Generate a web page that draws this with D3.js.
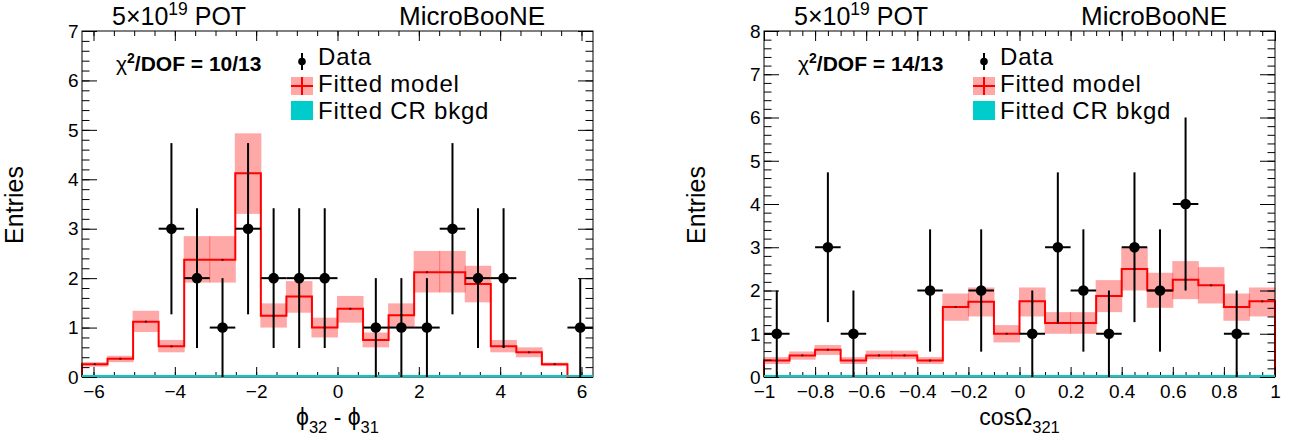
<!DOCTYPE html>
<html><head><meta charset="utf-8">
<script src="https://cdn.jsdelivr.net/npm/d3@7"></script>
<style>
body{margin:0;background:#fff}
svg{display:block}
text{font-family:"Liberation Sans",Arial,Helvetica,sans-serif;fill:#000}
</style>
</head><body>
<svg id="c" width="1292" height="444"></svg>
<script>
// ---------- data ----------
const phiRange = [-2 * Math.PI, 2 * Math.PI];
const phiModel   = [0.26,0.37,1.12,0.62,2.37,2.37,4.12,1.24,1.63,1.00,1.38,0.75,1.25,2.12,2.12,1.88,0.62,0.50,0.26,0];
const phiModelHi = [0.30,0.43,1.34,0.75,2.85,2.85,4.93,1.49,1.94,1.20,1.64,0.90,1.49,2.55,2.55,2.25,0.75,0.60,0.29,0];
const phiModelLo = [0.21,0.30,0.91,0.50,1.91,1.91,3.30,1.00,1.30,0.80,1.10,0.60,1.00,1.71,1.71,1.51,0.50,0.40,0.22,0];
const phiData    = [0,0,0,3,2,1,3,2,2,2,0,1,1,1,3,2,2,0,0,1];
const phiCR      = [0,0,0,0,0,0,0,0,0,0,0,0,0,0,0,0,0,0,0,0];
const phiXTicks  = [-6,-4,-2,0,2,4,6];
const phiXLabels = ["\u22126","\u22124","\u22122","0","2","4","6"];
const phiYTicks  = [0,1,2,3,4,5,6,7];

const cosRange = [-1, 1];
const cosModel   = [0.38,0.50,0.63,0.38,0.50,0.50,0.38,1.62,1.74,1.00,1.75,1.25,1.25,1.87,2.50,2.00,2.25,2.12,1.62,1.75];
const cosModelHi = [0.46,0.59,0.74,0.46,0.61,0.61,0.46,1.93,2.07,1.20,2.07,1.50,1.50,2.24,3.00,2.41,2.68,2.54,1.93,2.07];
const cosModelLo = [0.30,0.40,0.51,0.30,0.41,0.41,0.30,1.30,1.40,0.80,1.40,1.00,1.00,1.50,2.00,1.60,1.80,1.70,1.30,1.40];
const cosData    = [1,0,3,1,0,0,2,0,2,0,1,3,2,1,3,2,4,0,1,0];
const cosCR      = [0,0,0,0,0,0,0,0,0,0,0,0,0,0,0,0,0,0,0,0];
const cosXTicks  = [-1,-0.8,-0.6,-0.4,-0.2,0,0.2,0.4,0.6,0.8,1];
const cosXLabels = ["\u22121","\u22120.8","\u22120.6","\u22120.4","\u22120.2","0","0.2","0.4","0.6","0.8","1"];
const cosYTicks  = [0,1,2,3,4,5,6,7,8];

const legendLabels = ["Data", "Fitted model", "Fitted CR bkgd"];
const chiTexts = ["10/13", "14/13"];

// ---------- layout / style ----------
const COL_BAND = "#ff0000", BAND_OP = 0.34, COL_LINE = "#ff0000", COL_CR = "#00cccc";
const TICK_FS = 19;

const panels = [
  {x0:82, x1:593, y0:31, y1:377, range:phiRange, ymax:7, model:phiModel, hi:phiModelHi, lo:phiModelLo,
   data:phiData, cr:phiCR, xTicks:phiXTicks, xLabels:phiXLabels, yTicks:phiYTicks, xMinor:0.5, chi:chiTexts[0],
   title:[{t:"\u03D5"},{t:"32",sub:true},{t:" - "},{t:"\u03D5"},{t:"31",sub:true}]},
  {x0:764, x1:1275, y0:31, y1:377, range:cosRange, ymax:8, model:cosModel, hi:cosModelHi, lo:cosModelLo,
   data:cosData, cr:cosCR, xTicks:cosXTicks, xLabels:cosXLabels, yTicks:cosYTicks, xMinor:0.05, chi:chiTexts[1],
   title:[{t:"cos\u03A9"},{t:"321",sub:true}]}
];

const svg = d3.select("#c");

panels.forEach(p => {
  const g = svg.append("g");
  const x = d3.scaleLinear().domain(p.range).range([p.x0, p.x1]);
  const y = d3.scaleLinear().domain([0, p.ymax]).range([p.y1, p.y0]);
  const n = p.model.length;
  const w = (p.range[1] - p.range[0]) / n;
  const edges = d3.range(n + 1).map(i => p.range[0] + i * w);
  const bins = d3.range(n).map(i => ({i, lo: edges[i], hi: edges[i+1], c: (edges[i] + edges[i+1]) / 2}));

  // model uncertainty band
  g.append("g").selectAll("rect").data(bins.filter(b => p.hi[b.i] > p.lo[b.i])).join("rect")
    .attr("x", b => x(b.lo) - 0.5)
    .attr("width", b => x(b.hi) - x(b.lo) + 1)
    .attr("y", b => y(p.hi[b.i]))
    .attr("height", b => y(p.lo[b.i]) - y(p.hi[b.i]))
    .attr("fill", COL_BAND).attr("fill-opacity", BAND_OP);

  // model step line
  const pts = [[edges[0], 0]];
  bins.forEach(b => { pts.push([b.lo, p.model[b.i]]); pts.push([b.hi, p.model[b.i]]); });
  pts.push([edges[n], 0]);
  g.append("path").datum(pts)
    .attr("d", d3.line().x(d => x(d[0])).y(d => y(d[1])))
    .attr("fill", "none").attr("stroke", COL_LINE).attr("stroke-width", 2);

  // tiny markers of model
  g.append("g").selectAll("rect").data(bins.filter(b => p.model[b.i] > 0)).join("rect")
    .attr("x", b => x(b.c) - 1).attr("y", b => y(p.model[b.i]) - 1)
    .attr("width", 2).attr("height", 2).attr("fill", "#551111");

  // CR background (zero) line
  const crPts = [];
  bins.forEach(b => { crPts.push([b.lo, p.cr[b.i]]); crPts.push([b.hi, p.cr[b.i]]); });

  // frame
  g.append("rect").attr("x", p.x0).attr("y", p.y0).attr("width", p.x1 - p.x0).attr("height", p.y1 - p.y0)
    .attr("fill", "none").attr("stroke", "#000").attr("stroke-width", 1);

  // axes
  const xMinorVals = d3.range(Math.ceil(p.range[0] / p.xMinor), Math.floor(p.range[1] / p.xMinor) + 1).map(k => +(k * p.xMinor).toFixed(4));
  const yMinorVals = d3.range(0, p.ymax * 5 + 1).map(k => +(k * 0.2).toFixed(4));
  const styleAxis = sel => { sel.select(".domain").remove(); sel.selectAll("line").attr("stroke", "#000").attr("stroke-width", 1); };

  g.append("g").attr("transform", `translate(0,${p.y1})`)
    .call(d3.axisBottom(x).tickValues(xMinorVals).tickSize(-5).tickFormat("")).call(styleAxis);
  g.append("g").attr("transform", `translate(0,${p.y1})`)
    .call(d3.axisBottom(x).tickValues(p.xTicks).tickSize(-10).tickPadding(8)
      .tickFormat((d, i) => p.xLabels[i])).call(styleAxis)
    .selectAll("text").attr("font-size", TICK_FS).attr("dy", "0.69em").attr("font-family", "Liberation Sans, Arial, sans-serif");
  g.append("g").attr("transform", `translate(0,${p.y0})`)
    .call(d3.axisTop(x).tickValues(xMinorVals).tickSize(-5).tickFormat("")).call(styleAxis);
  g.append("g").attr("transform", `translate(0,${p.y0})`)
    .call(d3.axisTop(x).tickValues(p.xTicks).tickSize(-10).tickFormat("")).call(styleAxis);

  g.append("g").attr("transform", `translate(${p.x0},0)`)
    .call(d3.axisLeft(y).tickValues(yMinorVals).tickSize(-7.5).tickFormat("")).call(styleAxis);
  g.append("g").attr("transform", `translate(${p.x0},0)`)
    .call(d3.axisLeft(y).tickValues(p.yTicks).tickSize(-15).tickPadding(3.5).tickFormat(d3.format("d"))).call(styleAxis)
    .selectAll("text").attr("font-size", TICK_FS).attr("dy", "0.33em").attr("font-family", "Liberation Sans, Arial, sans-serif");
  g.append("g").attr("transform", `translate(${p.x1},0)`)
    .call(d3.axisRight(y).tickValues(yMinorVals).tickSize(-7.5).tickFormat("")).call(styleAxis);
  g.append("g").attr("transform", `translate(${p.x1},0)`)
    .call(d3.axisRight(y).tickValues(p.yTicks).tickSize(-15).tickFormat("")).call(styleAxis);

  // CR line drawn over the bottom frame
  g.append("path").datum(crPts)
    .attr("d", d3.line().x(d => x(d[0])).y(d => y(d[1]) - 1))
    .attr("fill", "none").attr("stroke", COL_CR).attr("stroke-width", 2);

  // data points with sqrt(N) errors
  const dbins = bins.filter(b => p.data[b.i] > 0);
  const dg = g.append("g").attr("stroke", "#000").attr("stroke-width", 2);
  dg.selectAll("line.h").data(dbins).join("line").attr("class", "h")
    .attr("x1", b => x(b.lo)).attr("x2", b => x(b.hi))
    .attr("y1", b => y(p.data[b.i])).attr("y2", b => y(p.data[b.i]));
  dg.selectAll("line.v").data(dbins).join("line").attr("class", "v")
    .attr("x1", b => x(b.c)).attr("x2", b => x(b.c))
    .attr("y1", b => y(Math.max(0, p.data[b.i] - Math.sqrt(p.data[b.i]))))
    .attr("y2", b => y(p.data[b.i] + Math.sqrt(p.data[b.i])));
  g.append("g").selectAll("circle").data(dbins).join("circle")
    .attr("cx", b => x(b.c)).attr("cy", b => y(p.data[b.i])).attr("r", 5.3).attr("fill", "#000");

  // axis titles
  g.append("text").attr("transform", `translate(${p.x0 - 59},${(p.y0 + p.y1) / 2 + 1}) rotate(-90)`)
    .attr("text-anchor", "middle").attr("font-size", 25).text("Entries");
  const xt = g.append("text").attr("x", (p.x0 + p.x1) / 2).attr("y", 425)
    .attr("text-anchor", "middle").attr("font-size", 23);
  let prevSub = false;
  p.title.forEach(s => {
    const ts = xt.append("tspan").text(s.t);
    if (s.sub) { ts.attr("font-size", 16.5).attr("dy", prevSub ? 0 : 8); }
    else if (prevSub) { ts.attr("dy", -8); }
    prevSub = !!s.sub;
  });

  // top labels
  const pot = g.append("text").attr("x", p.x0 + 30).attr("y", 25).attr("font-size", 25);
  pot.append("tspan").text("5\u00D710");
  pot.append("tspan").text("19").attr("font-size", 17.5).attr("dy", -10);
  pot.append("tspan").text(" POT").attr("dy", 10);
  g.append("text").attr("x", p.x1 - 48).attr("y", 25).attr("text-anchor", "end")
    .attr("font-size", 26).text("MicroBooNE");

  // chi2 text
  const chi = g.append("text").attr("x", p.x0 + 34).attr("y", 71).attr("font-size", 21).attr("font-weight", "bold");
  chi.append("tspan").text("\u03C7").attr("font-weight", "normal");
  chi.append("tspan").text("2").attr("font-size", 14).attr("dy", -8);
  chi.append("tspan").text("/DOF = " + p.chi).attr("dy", 8);

  // legend
  const lx = p.x0 + 220;
  const lg = g.append("g");
  lg.append("line").attr("x1", lx).attr("x2", lx).attr("y1", 53).attr("y2", 70).attr("stroke", "#000").attr("stroke-width", 2);
  lg.append("circle").attr("cx", lx).attr("cy", 61.5).attr("r", 3.8).attr("fill", "#000");
  lg.append("rect").attr("x", lx - 11).attr("y", 77).attr("width", 22).attr("height", 18)
    .attr("fill", COL_BAND).attr("fill-opacity", BAND_OP);
  lg.append("line").attr("x1", lx - 11).attr("x2", lx + 11).attr("y1", 86).attr("y2", 86).attr("stroke", COL_LINE).attr("stroke-width", 2);
  lg.append("line").attr("x1", lx).attr("x2", lx).attr("y1", 77).attr("y2", 95).attr("stroke", COL_LINE).attr("stroke-width", 2);
  lg.append("rect").attr("x", lx - 11).attr("y", 101).attr("width", 22).attr("height", 19).attr("fill", COL_CR);
  lg.selectAll("text.lt").data(legendLabels).join("text").attr("class", "lt")
    .attr("x", lx + 16).attr("y", (d, i) => 65 + i * 27).attr("font-size", 24)
    .attr("letter-spacing", 0.8).text(d => d);
});
</script>
</body></html>
